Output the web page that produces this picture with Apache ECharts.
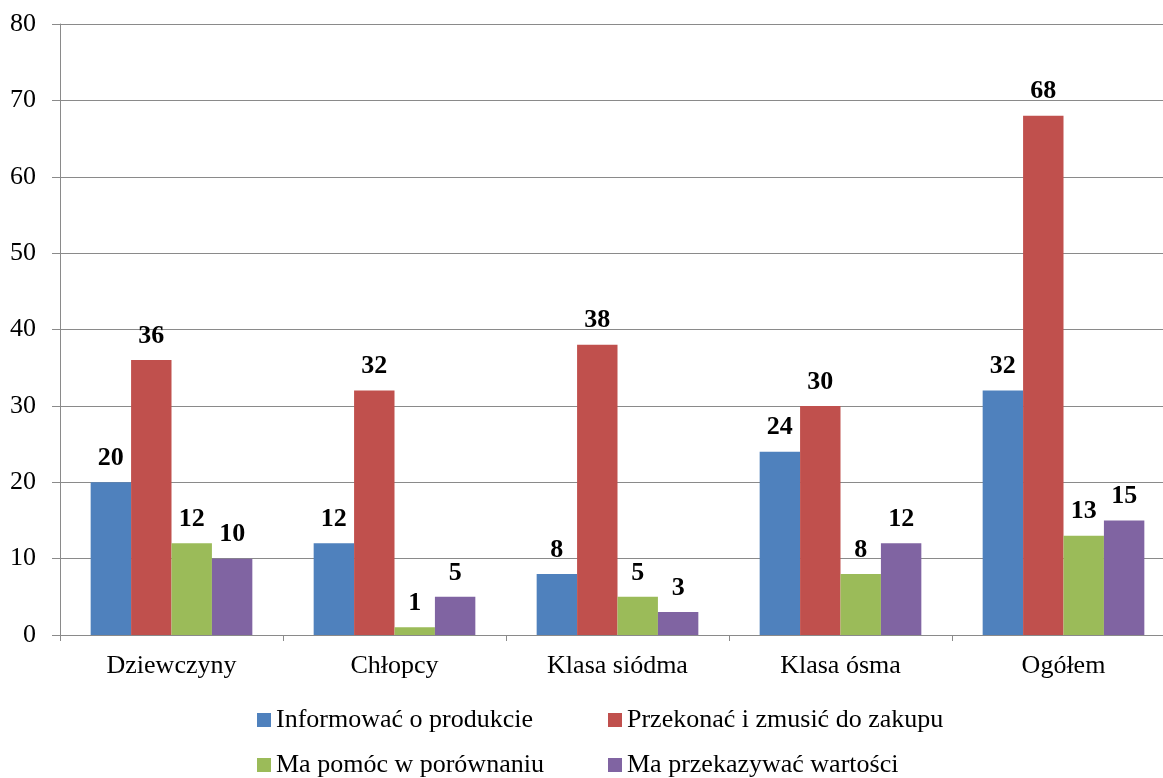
<!DOCTYPE html>
<html>
<head>
<meta charset="utf-8">
<script src="https://cdn.jsdelivr.net/npm/echarts@6/dist/echarts.min.js"></script>
<style>
  html, body { margin: 0; padding: 0; background: #fff; }
  #chart { width: 1163px; height: 778px; }
</style>
</head>
<body>
<div id="chart"></div>
<script>
// Groups along the x axis
const categories = ['Dziewczyny', 'Chłopcy', 'Klasa siódma', 'Klasa ósma', 'Ogółem'];

// One list of answers per series
const seriesNames = [
  'Informować o produkcie',
  'Przekonać i zmusić do zakupu',
  'Ma pomóc w porównaniu',
  'Ma przekazywać wartości'
];
const informowac = [20, 12, 8, 24, 32];
const przekonac = [36, 32, 38, 30, 68];
const porownanie = [12, 1, 5, 8, 13];
const wartosci = [10, 5, 3, 12, 15];

// Value axis ticks
const yTicks = [0, 10, 20, 30, 40, 50, 60, 70, 80];

const colors = ['#4F81BD', '#C0504D', '#9BBB59', '#8064A2'];
const values = [informowac, przekonac, porownanie, wartosci];
const font = 'Liberation Serif';
const gray = '#8a8a8a';

const series = values.map((data, i) => ({
  name: seriesNames[i],
  type: 'bar',
  data: data,
  barGap: '0%',
  barCategoryGap: '27.5%',
  itemStyle: { color: colors[i] },
  label: {
    show: true,
    position: 'top',
    distance: 11,
    fontFamily: font,
    fontWeight: 'bold',
    fontSize: 26,
    color: '#000'
  }
}));

// Legend laid out as two columns and two rows
const legendSpots = [
  { left: 257, top: 707 },
  { left: 608, top: 707 },
  { left: 257, top: 752 },
  { left: 608, top: 752 }
];
const legends = seriesNames.map((name, i) => ({
  data: [name],
  left: legendSpots[i].left,
  top: legendSpots[i].top,
  padding: 0,
  itemWidth: 14,
  itemHeight: 14,
  icon: 'rect',
  textStyle: { fontFamily: font, fontSize: 26, color: '#000' }
}));

const chart = echarts.init(document.getElementById('chart'), null, { renderer: 'canvas' });
chart.setOption({
  animation: false,
  backgroundColor: '#fff',
  // the plot runs slightly past the right edge of the canvas
  grid: {
    left: 60, top: 24, width: 1115, bottom: 143,
    containLabel: false,
    outerBoundsMode: 'none'
  },
  legend: legends,
  xAxis: {
    type: 'category',
    data: categories,
    axisLine: { lineStyle: { color: gray, width: 1 } },
    axisTick: { show: true, length: 6, lineStyle: { color: gray } },
    axisLabel: { margin: 18, fontFamily: font, fontSize: 26, color: '#000' }
  },
  yAxis: {
    type: 'value',
    min: yTicks[0],
    max: yTicks[yTicks.length - 1],
    interval: 10,
    axisLine: { show: true, lineStyle: { color: gray, width: 1 } },
    axisTick: { show: true, length: 8, lineStyle: { color: gray } },
    splitLine: { show: true, lineStyle: { color: gray, width: 1 } },
    axisLabel: { margin: 24, fontFamily: font, fontSize: 26, color: '#000' }
  },
  series: series
});
</script>
</body>
</html>
